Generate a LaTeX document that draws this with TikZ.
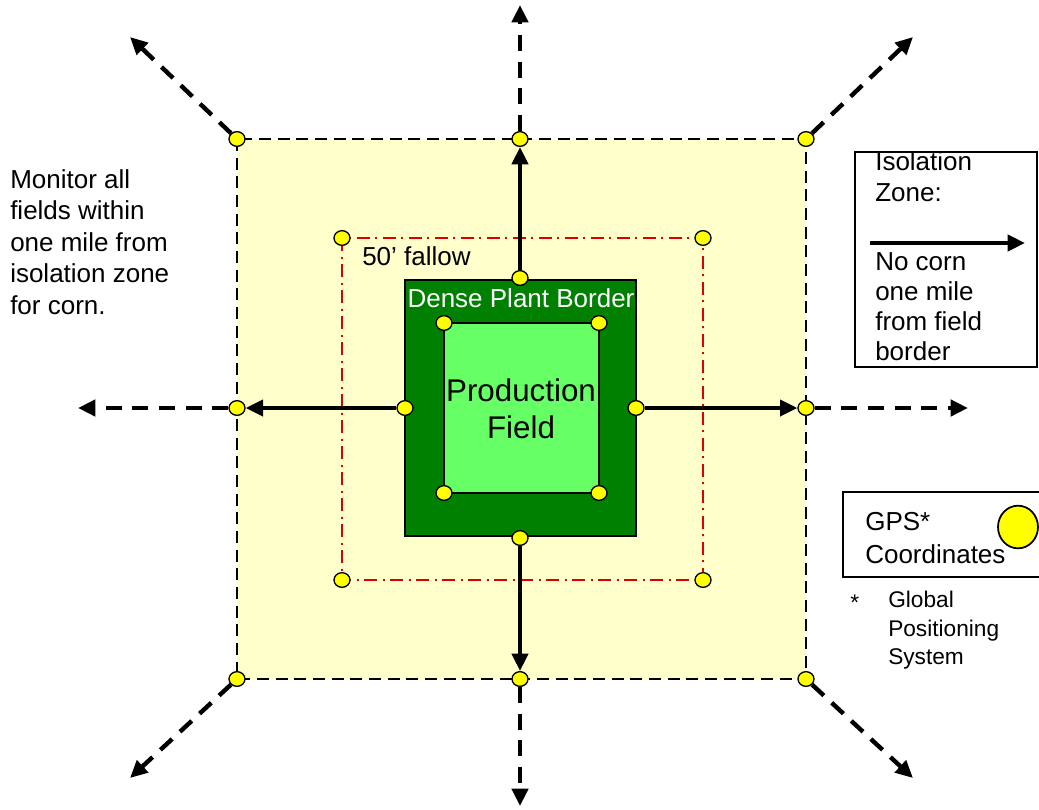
\documentclass[tikz,border=0pt]{standalone}
\usepackage{fontspec}
\setmainfont{Liberation Sans}
\usetikzlibrary{shapes.geometric,arrows.meta,positioning}
\definecolor{zone}{HTML}{FFFFCC}
\definecolor{plantborder}{HTML}{008000}
\definecolor{field}{HTML}{66FF66}
\definecolor{fallow}{HTML}{DD0000}
\definecolor{gpsdot}{HTML}{FFFF00}
\tikzset{
  gps/.style={ellipse,draw,fill=gpsdot,line width=1pt,minimum width=12pt,minimum height=11pt,inner sep=0pt},
  isoarrow/.style={line width=3pt,-{Triangle[length=13pt,width=12pt]}},
  monarrow/.style={line width=3.3pt,dash pattern=on 12pt off 8pt,-{Triangle[length=13pt,width=12pt]}},
  txt/.style={inner sep=0pt,align=left,font=\fontsize{19.5}{23.7}\selectfont},
}

\begin{document}
\begin{tikzpicture}[x=0.75pt,y=-0.75pt]
\useasboundingbox (0,0) rectangle (1039,810);
% isolation zone
\filldraw[fill=zone,line width=1.8pt,dash pattern=on 9pt off 5pt] (237,139) rectangle (806,679);
% fallow strip
\draw[fallow,line width=1.3pt,dash pattern=on 10pt off 4pt on 1.5pt off 4pt] (342,238) rectangle (703,580);
% dense plant border and production field
\filldraw[fill=plantborder,line width=1.5pt] (405,280) rectangle (636,536);
\filldraw[fill=field,line width=1.8pt] (444,323) rectangle (599,493);

\node[txt,anchor=base west] (fallowlbl) at (362,265) {50’ fallow};
\node[txt,anchor=base,text=white] (denselbl) at (521,307) {Dense Plant Border};
\node[txt,align=center,anchor=north,font=\fontsize{23.5}{27.75}\selectfont] (prodlbl) at (521,379) {Production\\Field};

% GPS points
\foreach \n/\x/\y in {onw/237/139, on/520/139, one/806/139, ow/237/408, oe/806/408,
    osw/237/679, os/520/679, ose/806/679, fnw/342/238, fne/703/238, fsw/342/580,
    fse/703/580, bn/520/278, bw/405/408, be/636/408, bs/520/538,
    pnw/444/323, pne/599/323, psw/444/493, pse/599/493}
  \node[gps] (\n) at (\x,\y) {};

% no corn within one mile
\draw[isoarrow] (bn) -- (on);
\draw[isoarrow] (bs) -- (os);
\draw[isoarrow] (bw) -- (ow);
\draw[isoarrow] (be) -- (oe);

% monitor fields
\foreach \d/\x/\y in {nw/130/37, n/520/5, ne/913/37, w/78/408, e/968/408,
    sw/130/778, s/520/806, se/913/778} {
  \coordinate (t\d) at (\x,\y);
  \draw[monarrow] (o\d) -- (t\d);
}

\node[txt,anchor=north west] (monitor) at (10,169) {Monitor all\\fields within\\one mile from\\isolation zone\\for corn.};

% legend: isolation zone
\node[txt,anchor=north west] (isotitle) at (875,151) {Isolation\\Zone:};
\coordinate (lega) at (870,243);
\coordinate (legb) at (1025,243);
\draw[isoarrow] (lega) -- (legb);
\node[txt,anchor=north west,font=\fontsize{19.5}{22.5}\selectfont] (isotext) at (875,252) {No corn\\one mile\\from field\\border};
\draw[line width=1.5pt] (855,152) rectangle (1037,367);

% legend: GPS
\draw[line width=1.5pt] (843,492) rectangle (1045,577);
\node[ellipse,draw,fill=gpsdot,line width=1.3pt,minimum width=30pt,minimum height=32pt] (gpskey) at (1018,527) {};
\node[txt,anchor=north west,font=\fontsize{19.5}{24.75}\selectfont] (gpstext) at (865,512) {GPS*\\Coordinates};
\node[txt,anchor=north west,font=\fontsize{17}{21.4}\selectfont] (star) at (850,595) {*};
\node[txt,anchor=north west,font=\fontsize{17}{21.4}\selectfont] (gpsnote) at (888,591) {Global\\Positioning\\System};
\end{tikzpicture}
\end{document}
